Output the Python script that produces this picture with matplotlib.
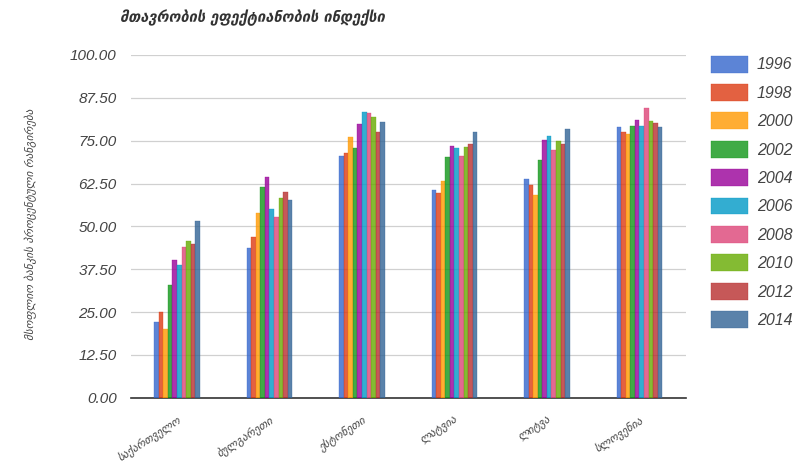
import matplotlib.pyplot as plt
import numpy as np

countries = ["საქართველო", "ბულგარეთი", "ესტონეთი", "ლატვია", "ლიტვა", "სლოვენია"]
years = ["1996", "1998", "2000", "2002", "2004", "2006", "2008", "2010", "2012", "2014"]

# one row per country, one column per year
values = [
    [22.2, 24.9, 20.1, 32.9, 40.2, 38.8, 44.1, 45.6, 44.8, 51.6],
    [43.6, 46.8, 53.8, 61.6, 64.3, 55.0, 52.6, 58.2, 59.9, 57.7],
    [70.5, 71.5, 76.0, 73.0, 80.0, 83.5, 83.0, 82.0, 77.5, 80.5],
    [60.6, 59.7, 63.1, 70.2, 73.5, 72.8, 70.6, 73.3, 74.1, 77.6],
    [63.8, 62.1, 59.2, 69.4, 75.2, 76.4, 72.3, 74.9, 74.0, 78.3],
    [78.9, 77.6, 77.0, 79.3, 81.0, 79.4, 84.5, 80.8, 80.3, 78.9],
]

colors = ["#3366cc", "#dc3912", "#ff9900", "#109618", "#990099",
          "#0099c6", "#dd4477", "#66aa00", "#b82e2e", "#316395"]

title = "მთავრობის ეფექტიანობის ინდექსი"
ylabel = "მსოფლიო ბანკის პროცენტული რანგირება"

fig = plt.figure(figsize=(8.02, 4.68), dpi=100)
ax = fig.add_axes([0.163, 0.150, 0.692, 0.7325])

data = np.array(values)
x = np.arange(len(countries))
group_w = 0.49
bw = group_w / len(years)
for j, yr in enumerate(years):
    ax.bar(x - group_w / 2 + bw * (j + 0.5), data[:, j], width=bw,
           color=colors[j], edgecolor=colors[j], linewidth=0.3,
           alpha=0.8, label=yr, zorder=3)

ax.set_xlim(-0.5, len(countries) - 0.5)
ax.set_ylim(0, 100)
yt = np.arange(0, 100.01, 12.5)
ax.set_yticks(yt)
ax.set_yticklabels([f"{v:.2f}" for v in yt], fontstyle="italic",
                   color="#444444", fontsize=11, family="Liberation Sans")
ax.grid(axis="y", color="#d0d0d0", linewidth=0.9, zorder=0)
for s in ["top", "right", "left"]:
    ax.spines[s].set_visible(False)
ax.spines["bottom"].set_color("#333333")
ax.spines["bottom"].set_linewidth(1.2)
ax.tick_params(axis="both", length=0, pad=10)

ax.set_xticks(x)
ax.set_xticklabels(countries, rotation=33, ha="right", rotation_mode="anchor",
                   fontsize=8, color="#444444", fontstyle="italic")
ax.tick_params(axis="x", pad=12)

fig.text(0.15, 0.962, title, fontsize=10.5, color="#333333",
         fontstyle="italic", fontweight="semibold", va="center")
fig.text(0.038, 0.52, ylabel, rotation=90, fontsize=8, color="#444444",
         fontstyle="italic", ha="center", va="center")

leg = ax.legend(loc="upper left", bbox_to_anchor=(1.02, 1.04), frameon=False,
                handlelength=2.3, handleheight=1.25, handletextpad=0.55,
                labelspacing=0.72, prop={"family": "Liberation Sans",
                                         "style": "italic", "size": 11.5})
for t in leg.get_texts():
    t.set_color("#444444")

fig.savefig("out.png", dpi=100)
